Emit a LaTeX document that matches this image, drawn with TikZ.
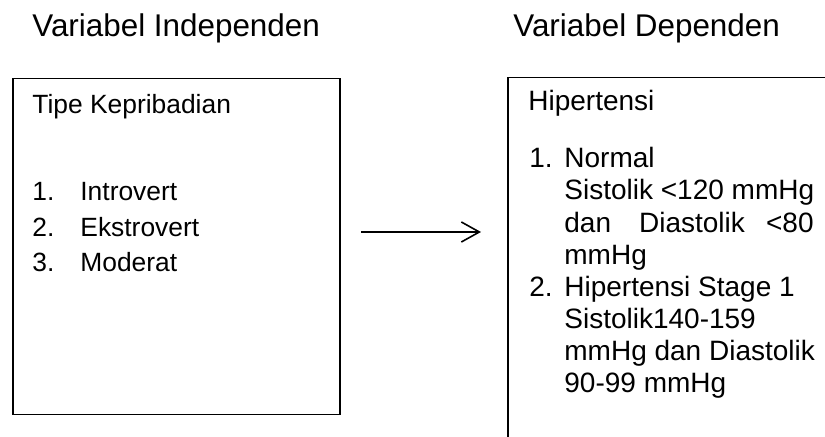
\documentclass[tikz,border=0pt]{standalone}
\usepackage{fontspec}
\setmainfont{Liberation Sans}
\usetikzlibrary{arrows.meta}
\tikzset{
  frame/.style={draw=black, line width=0.75pt, rectangle, inner sep=0pt, anchor=north west},
  head/.style={anchor=base west, inner sep=0pt, font=\fontsize{15.7}{18}\selectfont},
  ltxt/.style={anchor=base west, inner sep=0pt, font=\fontsize{13.2}{15}\selectfont},
  rtxt/.style={anchor=base west, inner sep=0pt, font=\fontsize{14}{16}\selectfont},
  link/.style={line width=0.8pt, -{Straight Barb[length=9pt, width=10pt, line width=0.8pt]}}
}
\begin{document}
\begin{tikzpicture}[x=0.5pt, y=-0.5pt]
\useasboundingbox (0,0) rectangle (825,437);
\clip (0,0) rectangle (825,437);
% headings
\node[head] (h1) at (32,37) {Variabel Independen};
\node[head] (h2) at (513,37) {Variabel Dependen};
% boxes
\node[frame, minimum width=163.5pt, minimum height=168pt] (lbox) at (12,78) {};
\node[frame, minimum width=200pt, minimum height=200pt] (rbox) at (507,77) {};
% left box text
\node[ltxt] (lt) at (32,114) {Tipe Kepribadian};
\node[ltxt] (l1n) at (32,201) {1.};
\node[ltxt] (l1) at (80,201) {Introvert};
\node[ltxt] (l2n) at (32,237) {2.};
\node[ltxt] (l2) at (80,237) {Ekstrovert};
\node[ltxt] (l3n) at (32,272) {3.};
\node[ltxt] (l3) at (80,272) {Moderat};
% right box text
\node[rtxt] (rt) at (528,111) {Hipertensi};
\node[rtxt] (r1n) at (529,168) {1.};
\node[rtxt] (r1a) at (564,168) {Normal};
\node[rtxt] (r1b) at (564,200) {Sistolik <120 mmHg};
\node[rtxt] (r1c) at (564,233) {dan};
\node[rtxt, anchor=base] (r1d) at (692,233) {Diastolik};
\node[rtxt, anchor=base east] (r1e) at (814,233) {<80};
\node[rtxt] (r1f) at (564,265) {mmHg};
\node[rtxt] (r2n) at (529,297) {2.};
\node[rtxt] (r2a) at (564,297) {Hipertensi Stage 1};
\node[rtxt] (r2b) at (564,329) {Sistolik140-159};
\node[rtxt] (r2c) at (564,361) {mmHg dan Diastolik};
\node[rtxt] (r2d) at (564,393) {90-99 mmHg};
% arrow
\coordinate (a1) at (361,232);
\coordinate (a2) at (481,232);
\draw[link] (a1) -- (a2);
\end{tikzpicture}
\end{document}
